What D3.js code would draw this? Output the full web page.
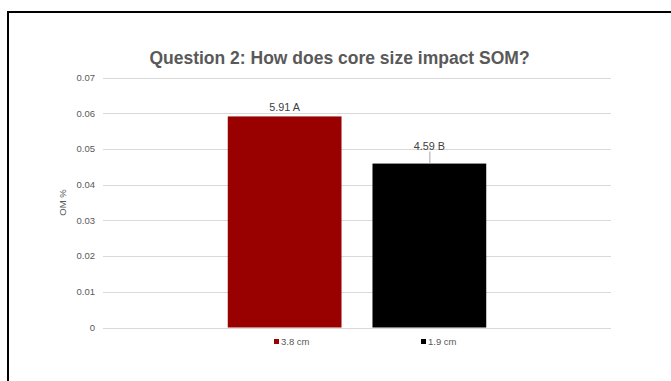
<!DOCTYPE html>
<html>
<head>
<meta charset="utf-8">
<script src="https://cdn.jsdelivr.net/npm/d3@7"></script>
<style>
  html, body { margin: 0; padding: 0; background: #fff; }
  svg { display: block; font-family: "Liberation Sans", Arial, sans-serif; }
</style>
</head>
<body>
<svg id="chart" width="671" height="381"></svg>
<script>
// Organic matter by core diameter
const series = ["3.8 cm", "1.9 cm"];
const values = [0.0591, 0.0459];
const valueLabels = ["5.91 A", "4.59 B"];
const colors = ["#990000", "#000000"];
const yTicks = [0, 0.01, 0.02, 0.03, 0.04, 0.05, 0.06, 0.07];
const tickLabels = ["0", "0.01", "0.02", "0.03", "0.04", "0.05", "0.06", "0.07"];
const title = "Question 2: How does core size impact SOM?";
const yTitle = "OM %";

const svg = d3.select("#chart");
const textColor = "#595959";

// outer frame (open at right and bottom)
svg.append("path")
  .attr("d", "M8,381 V12 H671")
  .attr("fill", "none")
  .attr("stroke", "#000")
  .attr("stroke-width", 2);

const plot = { left: 103, right: 611, top: 77.5, bottom: 327.5 };

const y = d3.scaleLinear().domain([0, 0.07]).range([plot.bottom, plot.top]);
const x = d3.scaleBand().domain(series)
  .range([plot.left, plot.right])
  .paddingInner(0.214)
  .paddingOuter(0.862);

// gridlines
svg.append("g").selectAll("line").data(yTicks).join("line")
  .attr("x1", plot.left).attr("x2", plot.right)
  .attr("y1", d => Math.round(y(d)) + 0.5).attr("y2", d => Math.round(y(d)) + 0.5)
  .attr("stroke", "#d9d9d9").attr("stroke-width", 1);

// y tick labels
svg.append("g").selectAll("text").data(yTicks).join("text")
  .attr("x", 95).attr("y", d => y(d) + 3.3)
  .attr("text-anchor", "end")
  .attr("font-size", 9.5).attr("fill", textColor)
  .text((d, i) => tickLabels[i]);

// y axis title
svg.append("text")
  .attr("transform", `translate(66,${(plot.top + plot.bottom) / 2}) rotate(-90)`)
  .attr("text-anchor", "middle")
  .attr("font-size", 9.5).attr("fill", textColor)
  .text(yTitle);

// bars
svg.append("g").selectAll("rect").data(series).join("rect")
  .attr("x", d => x(d)).attr("width", x.bandwidth())
  .attr("y", (d, i) => y(values[i]))
  .attr("height", (d, i) => y(0) - y(values[i]))
  .attr("fill", (d, i) => colors[i]);

// value labels; the second one sits above a short leader line
const labelOffsets = [5.5, 14];
series.forEach((s, i) => {
  const cx = x(s) + x.bandwidth() / 2;
  const top = y(values[i]);
  svg.append("text")
    .attr("x", cx).attr("y", top - labelOffsets[i])
    .attr("text-anchor", "middle")
    .attr("font-size", 10.8).attr("fill", "#404040")
    .text(valueLabels[i]);
  if (i === 1) {
    svg.append("line")
      .attr("x1", cx + 0.5).attr("x2", cx + 0.5)
      .attr("y1", top - 12).attr("y2", top)
      .attr("stroke", "#a6a6a6").attr("stroke-width", 1);
  }
});

// title
svg.append("text")
  .attr("x", 339.5).attr("y", 63.5)
  .attr("text-anchor", "middle")
  .attr("font-size", 17.5).attr("font-weight", "bold").attr("fill", textColor)
  .text(title);

// legend
const legendX = [274, 421];
series.forEach((s, i) => {
  const g = svg.append("g").attr("transform", `translate(${legendX[i]},339)`);
  g.append("rect").attr("width", 5).attr("height", 5).attr("fill", colors[i]);
  g.append("text").attr("x", 7).attr("y", 6)
    .attr("font-size", 9.5).attr("fill", textColor)
    .text(s);
});
</script>
</body>
</html>
